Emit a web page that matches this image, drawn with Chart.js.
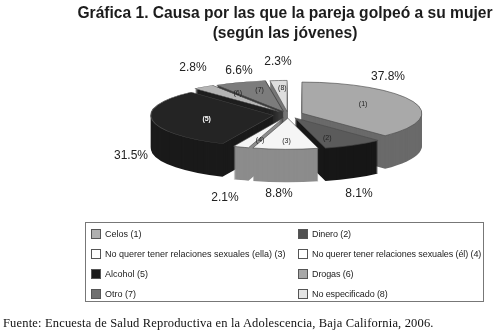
<!DOCTYPE html>
<html lang="es">
<head>
<meta charset="utf-8">
<title>Gráfica 1</title>
<script src="https://cdn.jsdelivr.net/npm/chart.js@4"></script>
<style>
  html, body { margin: 0; padding: 0; background: #fff; }
  #wrap { position: relative; width: 498px; height: 333px; overflow: hidden; font-family: "Liberation Sans", sans-serif; }
  #grafica { position: absolute; left: 0; top: 0; }
  #leyenda { position: absolute; left: 85px; top: 222px; width: 397px; height: 78px; border: 1px solid #777; box-sizing: content-box; }
  .item { position: absolute; font-size: 9px; color: #222; white-space: nowrap; line-height: 12px; }
  .item i { position: absolute; left: 0; top: 1px; width: 8px; height: 8px; border: 1px solid #555; }
  .item span { position: absolute; left: 14px; top: 0; }
  .item.der { letter-spacing: -0.1px; }
  #fuente { position: absolute; left: 3px; top: 316px; font: 12.5px "Liberation Serif", serif; letter-spacing: 0.17px; color: #111; white-space: nowrap; }
</style>
</head>
<body>
<div id="wrap">
  <canvas id="grafica" width="498" height="333"></canvas>
  <div id="leyenda"></div>
  <div id="fuente">Fuente: Encuesta de Salud Reproductiva en la Adolescencia, Baja California, 2006.</div>
</div>
<script>
const causas = [
  "Celos (1)",
  "Dinero (2)",
  "No querer tener relaciones sexuales (ella) (3)",
  "No querer tener relaciones sexuales (él) (4)",
  "Alcohol (5)",
  "Drogas (6)",
  "Otro (7)",
  "No especificado (8)",
];
const porcentajes = [37.8, 8.1, 8.8, 2.1, 31.5, 2.8, 6.6, 2.3];
const marcas = ["(1)", "(2)", "(3)", "(4)", "(5)", "(6)", "(7)", "(8)"];
const titulo = ["Gráfica 1. Causa por las que la pareja golpeó a su mujer", "(según las jóvenes)"];

const colorCara = ["#a9a9a9", "#5b5b5b", "#f5f5f5", "#f5f5f5", "#242424", "#b4b4b4", "#7c7c7c", "#dedede"];
const colorLado = ["#6a6a6a", "#171717", "#8c8c8c", "#8c8c8c", "#1a1a1a", "#1f1f1f", "#3a3a3a", "#777777"];
const colorLeyenda = ["#b0b0b0", "#505050", "#ffffff", "#ffffff", "#1a1a1a", "#a8a8a8", "#707070", "#e4e4e4"];

// how the flat pie is turned into the tilted one
const aplastar = 0.26;
const grosor = 33;
const moverX = 3;
const separar = [15, 14, 13, 13, 15, 14, 13, 12];
const estirar = [1, 1, 1, 1, 1.02, 1.05, 1.05, 1];

// where the percent labels sit, centre of the text
const posPorcentaje = [[388, 77], [359, 194], [279, 194], [225, 198], [131, 156], [193, 68], [239, 71], [278, 62]];

function pintarCuna(ctx, el, i, extra, color, borde) {
  const media = (el.startAngle + el.endAngle) / 2;
  const guardado = el.options;
  el.options = Object.assign({}, guardado, {
    backgroundColor: color,
    borderColor: borde || color,
    borderWidth: borde ? 1 : 0,
    offset: 0,
  });
  ctx.save();
  ctx.translate(el.x + moverX + Math.cos(media) * separar[i], el.y + extra + Math.sin(media) * separar[i] * aplastar);
  ctx.scale(estirar[i], aplastar);
  ctx.translate(-el.x, -el.y);
  el.draw(ctx);
  ctx.restore();
  el.options = guardado;
}

const pastel3d = {
  id: "pastel3d",
  beforeDatasetDraw(chart) {
    const ctx = chart.ctx;
    const arcos = chart.getDatasetMeta(0).data;
    const orden = arcos.map((el, i) => i).sort((a, b) => {
      const ya = Math.sin((arcos[a].startAngle + arcos[a].endAngle) / 2);
      const yb = Math.sin((arcos[b].startAngle + arcos[b].endAngle) / 2);
      return ya - yb;
    });
    orden.forEach((i) => {
      for (let d = grosor; d > 0; d--) pintarCuna(ctx, arcos[i], i, d, colorLado[i]);
      pintarCuna(ctx, arcos[i], i, 0, colorCara[i], "#4a4a4a");
    });
    return false;
  },
  afterDraw(chart) {
    const ctx = chart.ctx;
    const arcos = chart.getDatasetMeta(0).data;
    ctx.save();
    ctx.textAlign = "center";
    ctx.textBaseline = "middle";
    arcos.forEach((el, i) => {
      const media = (el.startAngle + el.endAngle) / 2;
      const x = el.x + moverX + Math.cos(media) * (separar[i] + el.outerRadius * estirar[i] * 0.55);
      const y = el.y + Math.sin(media) * (separar[i] + el.outerRadius * 0.75) * aplastar;
      ctx.font = i === 4 ? "bold 7px 'Liberation Sans'" : "7px 'Liberation Sans'";
      ctx.fillStyle = i === 4 ? "#ffffff" : "#222222";
      ctx.fillText(marcas[i], x, y);

      ctx.font = "12px 'Liberation Sans'";
      ctx.fillStyle = "#222222";
      ctx.fillText(porcentajes[i].toFixed(1) + "%", posPorcentaje[i][0], posPorcentaje[i][1]);
    });
    ctx.restore();
  },
};

new Chart(document.getElementById("grafica"), {
  type: "pie",
  data: {
    labels: causas,
    datasets: [{ data: porcentajes, backgroundColor: colorCara }],
  },
  options: {
    responsive: false,
    animation: false,
    radius: 120,
    layout: { padding: { left: 72, right: 0, top: 0, bottom: 151 } },
    plugins: {
      legend: { display: false },
      tooltip: { enabled: false },
      title: {
        display: true,
        text: titulo,
        fullSize: false,
        color: "#1c1c1c",
        font: { family: "'Liberation Sans'", size: 15.6, weight: "bold", lineHeight: 1.33 },
        padding: { top: 3, bottom: 3 },
      },
    },
  },
  plugins: [pastel3d],
});

const leyenda = document.getElementById("leyenda");
const filas = [10, 30, 50, 70];
const columnas = [5, 212];
causas.forEach((nombre, i) => {
  const item = document.createElement("div");
  item.className = i % 2 ? "item der" : "item";
  item.style.left = columnas[i % 2] + "px";
  item.style.top = filas[Math.floor(i / 2)] - 5 + "px";
  const caja = document.createElement("i");
  caja.style.background = colorLeyenda[i];
  const texto = document.createElement("span");
  texto.textContent = nombre;
  item.append(caja, texto);
  leyenda.appendChild(item);
});
</script>
</body>
</html>
